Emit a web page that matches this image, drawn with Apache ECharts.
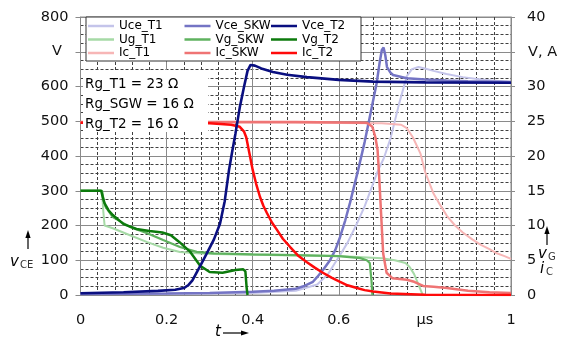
<!DOCTYPE html>
<html>
<head>
<meta charset="utf-8">
<script src="https://cdn.jsdelivr.net/npm/echarts@6/dist/echarts.min.js"></script>
<style>
html,body{margin:0;padding:0;background:#fff;}
#chart{width:574px;height:340px;}
</style>
</head>
<body>
<div id="chart"></div>
<script>
// ---- tick labels ('' = position taken by the unit label) ----
const xTickLabels = ['0', '0.2', '0.4', '0.6', 'μs', '1'];
const leftTicks = ['0', '100', '200', '300', '400', '500', '600', '', '800'];
const rightTicks = ['0', '5', '10', '15', '20', '25', '30', '', '40'];

// ---- series names ----
const namesT1 = ['Uce_T1', 'Ug_T1', 'Ic_T1'];
const namesSKW = ['Vce_SKW', 'Vg_SKW', 'Ic_SKW'];
const namesT2 = ['Vce_T2', 'Vg_T2', 'Ic_T2'];

// ---- data: [t (µs), value] ----
// collector-emitter voltages (V, left axis)
const uceT1 = [[0,3],[0.3,4],[0.4,6],[0.5,12],[0.55,30],[0.575,60],[0.59,90],[0.603,115],[0.62,150],[0.64,200],[0.66,255],[0.69,355],[0.705,395],[0.72,450],[0.74,550],[0.758,630],[0.77,650],[0.785,656],[0.8,652],[0.82,645],[0.85,636],[0.888,627],[0.93,620],[1,613]];
const vceSKW = [[0,3],[0.2,4],[0.3,6],[0.4,9],[0.45,12],[0.5,18],[0.52,26],[0.54,38],[0.55,52],[0.565,75],[0.58,101],[0.592,130],[0.603,167],[0.615,215],[0.626,265],[0.645,360],[0.66,440],[0.672,512],[0.688,610],[0.695,670],[0.7,705],[0.704,712],[0.708,690],[0.712,656],[0.72,640],[0.726,633],[0.758,624],[0.8,620],[0.85,617],[0.9,615],[1,613]];
const vceT2 = [[0,5],[0.1,8],[0.18,12],[0.22,15],[0.24,20],[0.25,28],[0.26,42],[0.27,65],[0.28,88],[0.294,121],[0.31,160],[0.324,205],[0.335,270],[0.345,360],[0.352,410],[0.36,465],[0.37,540],[0.38,600],[0.388,645],[0.395,662],[0.405,660],[0.42,652],[0.447,642],[0.48,634],[0.526,627],[0.6,619],[0.68,614],[0.8,612],[1,611]];
// gate voltages (V, right axis)
const ugT1 = [[0,15],[0.05,15],[0.053,12],[0.056,10],[0.06,9.8],[0.075,9.6],[0.115,8.6],[0.155,7.6],[0.192,6.8],[0.231,6.2],[0.27,6.0],[0.31,5.9],[0.4,5.8],[0.5,5.7],[0.6,5.6],[0.7,5.3],[0.73,5.0],[0.755,4.6],[0.765,4.0],[0.775,3.0],[0.785,1.5],[0.795,0]];
const vgSKW = [[0,15],[0.05,15],[0.054,13.5],[0.058,12.7],[0.075,11.2],[0.115,9.8],[0.155,8.9],[0.192,7.9],[0.231,6.9],[0.27,6.2],[0.31,6.0],[0.4,5.85],[0.5,5.75],[0.6,5.6],[0.65,5.3],[0.665,5.0],[0.672,4.6],[0.676,2],[0.678,0]];
const vgT2 = [[0,15],[0.048,15],[0.052,14],[0.056,13.2],[0.065,12.2],[0.075,11.5],[0.1,10.2],[0.13,9.5],[0.16,9.2],[0.19,9],[0.21,8.6],[0.23,7.6],[0.255,6.2],[0.278,4.2],[0.3,3.3],[0.33,3.2],[0.36,3.6],[0.378,3.7],[0.383,3.4],[0.386,1],[0.388,0]];
// collector currents (A, right axis)
const icT1 = [[0,24.9],[0.5,24.8],[0.7,24.7],[0.745,24.5],[0.758,24],[0.772,22.7],[0.79,20.3],[0.8,17.8],[0.82,14.6],[0.835,13],[0.851,11.4],[0.87,10],[0.888,9],[0.91,8],[0.93,7.2],[0.95,6.6],[0.967,6.0],[0.985,5.6],[1,5.2]];
const icSKW = [[0,24.9],[0.5,24.9],[0.66,24.8],[0.667,24.7],[0.678,24.2],[0.685,22.7],[0.69,20.9],[0.693,18],[0.697,13.2],[0.703,6.0],[0.711,3.2],[0.725,2.4],[0.758,2.2],[0.775,1.9],[0.796,1.3],[0.82,1.2],[0.851,1.0],[0.9,0.6],[0.95,0.4],[1,0.3]];
const icT2 = [[0,24.8],[0.3,24.7],[0.35,24.5],[0.37,24.2],[0.38,23.5],[0.385,22.7],[0.392,20.5],[0.4,18],[0.408,16],[0.417,14.1],[0.425,12.8],[0.433,11.8],[0.445,10.4],[0.456,9.4],[0.47,8.1],[0.487,6.9],[0.505,5.7],[0.526,4.7],[0.545,3.9],[0.563,3.2],[0.583,2.5],[0.603,1.9],[0.62,1.4],[0.642,1.0],[0.66,0.7],[0.68,0.5],[0.72,0.2],[0.8,0.05],[1,0]];

// ---- annotations ----
const rgTexts = ['Rg_T1 = 23 Ω', 'Rg_SGW = 16 Ω', 'Rg_T2 = 16 Ω'];

const FONT = 'DejaVu Sans';
const colors = {
  Uce_T1: '#c4c4ea', Vce_SKW: '#7474c4', Vce_T2: '#0a0f80',
  Ug_T1: '#a6daa6', Vg_SKW: '#5fb25f', Vg_T2: '#0c7a0c',
  Ic_T1: '#f7b6b6', Ic_SKW: '#ef7474', Ic_T2: '#ff0a0a'
};

function line(name, data, axis, width) {
  return {
    name: name, type: 'line', data: data, yAxisIndex: axis,
    showSymbol: false, symbol: 'none', smooth: false,
    lineStyle: { color: colors[name], width: width },
    itemStyle: { color: colors[name] },
    emphasis: { disabled: true }
  };
}

const series = [
  line('Uce_T1', uceT1, 0, 2),
  line('Ug_T1', ugT1, 1, 2),
  line('Ic_T1', icT1, 1, 2),
  line('Vce_SKW', vceSKW, 0, 2.5),
  line('Vg_SKW', vgSKW, 1, 2.2),
  line('Ic_SKW', icSKW, 1, 2.5),
  line('Ic_T2', icT2, 1, 2.5),
  line('Vg_T2', vgT2, 1, 2.5),
  line('Vce_T2', vceT2, 0, 2.6)
];

function legendCol(left, names) {
  return {
    data: names, orient: 'vertical', left: left, top: 19.25,
    padding: 0, itemGap: 0, itemWidth: 26, itemHeight: 2.5,
    icon: 'rect', selectedMode: false, z: 60,
    textStyle: { fontFamily: FONT, fontSize: 12, color: '#000', lineHeight: 13.5 }
  };
}

const gridColor = '#8a8a8a';
const minorStyle = { color: '#404040', width: 1, type: [3, 2] };

const option = {
  animation: false,
  backgroundColor: '#fff',
  grid: { left: 80.5, right: 63, top: 17, bottom: 45, show: true, borderColor: gridColor, borderWidth: 1, containLabel: false },
  legend: [legendCol(88, namesT1), legendCol(184.5, namesSKW), legendCol(271, namesT2)],
  xAxis: {
    type: 'value', min: 0, max: 1, interval: 0.2,
    axisLine: { show: true, lineStyle: { color: gridColor } },
    axisTick: { show: false },
    minorTick: { show: false, splitNumber: 5 },
    splitLine: { show: true, lineStyle: { color: gridColor, width: 1 } },
    minorSplitLine: { show: true, lineStyle: minorStyle },
    axisLabel: {
      margin: 18, fontFamily: FONT, fontSize: 14.5, color: '#111',
      formatter: function (v) { return xTickLabels[Math.round(v / 0.2)]; }
    }
  },
  yAxis: [
    {
      type: 'value', min: 0, max: 800, interval: 100, position: 'left',
      axisLine: { show: true, lineStyle: { color: gridColor } },
      axisTick: { show: true, length: 5, lineStyle: { color: gridColor } },
      minorTick: { show: false, splitNumber: 4 },
      splitLine: { show: true, lineStyle: { color: gridColor, width: 1 } },
      minorSplitLine: { show: true, lineStyle: minorStyle },
      axisLabel: {
        margin: 12, fontFamily: FONT, fontSize: 14.5, color: '#111',
        formatter: function (v) { return leftTicks[Math.round(v / 100)]; }
      }
    },
    {
      type: 'value', min: 0, max: 40, interval: 5, position: 'right',
      axisLine: { show: true, lineStyle: { color: gridColor } },
      axisTick: { show: true, length: 4, lineStyle: { color: gridColor } },
      splitLine: { show: false },
      axisLabel: {
        margin: 16, fontFamily: FONT, fontSize: 14.5, color: '#111',
        formatter: function (v) { return rightTicks[Math.round(v / 5)]; }
      }
    }
  ],
  graphic: [
    { type: 'rect', z: 50, shape: { x: 86, y: 17, width: 275, height: 44 }, style: { fill: '#fff', stroke: '#333', lineWidth: 1 } },
    { type: 'rect', z: 50, shape: { x: 83, y: 70, width: 125, height: 62 }, style: { fill: '#fff' } },
    { type: 'text', z: 60, x: 85, y: 84, style: { text: rgTexts[0], font: '13.5px "' + FONT + '"', fill: '#000', verticalAlign: 'middle' } },
    { type: 'text', z: 60, x: 85, y: 104, style: { text: rgTexts[1], font: '13.5px "' + FONT + '"', fill: '#000', verticalAlign: 'middle' } },
    { type: 'text', z: 60, x: 85, y: 124, style: { text: rgTexts[2], font: '13.5px "' + FONT + '"', fill: '#000', verticalAlign: 'middle' } },
    // axis unit labels
    { type: 'text', z: 60, x: 57, y: 51, style: { text: 'V', font: '14.5px "' + FONT + '"', fill: '#111', align: 'center', verticalAlign: 'middle' } },
    { type: 'text', z: 60, x: 528, y: 52, style: { text: 'V, A', font: '14.5px "' + FONT + '"', fill: '#111', verticalAlign: 'middle' } },
    // left quantity label
    { type: 'rect', z: 60, shape: { x: 27.4, y: 237, width: 1.2, height: 12 }, style: { fill: '#000' } },
    { type: 'polygon', z: 60, shape: { points: [[28, 230], [25.4, 238], [30.6, 238]] }, style: { fill: '#000' } },
    { type: 'text', z: 60, x: 10, y: 262, style: { text: 'v', font: 'italic 15px "' + FONT + '"', fill: '#000', verticalAlign: 'middle' } },
    { type: 'text', z: 60, x: 20, y: 265, style: { text: 'CE', font: '10px "' + FONT + '"', fill: '#333', verticalAlign: 'middle' } },
    // right quantity label
    { type: 'rect', z: 60, shape: { x: 546.4, y: 233, width: 1.2, height: 12 }, style: { fill: '#000' } },
    { type: 'polygon', z: 60, shape: { points: [[547, 226], [544.4, 234], [549.6, 234]] }, style: { fill: '#000' } },
    { type: 'text', z: 60, x: 538, y: 254, style: { text: 'v', font: 'italic 15px "' + FONT + '"', fill: '#000', verticalAlign: 'middle' } },
    { type: 'text', z: 60, x: 548, y: 257, style: { text: 'G', font: '10px "' + FONT + '"', fill: '#333', verticalAlign: 'middle' } },
    { type: 'text', z: 60, x: 540, y: 269, style: { text: 'i', font: 'italic 15px "' + FONT + '"', fill: '#000', verticalAlign: 'middle' } },
    { type: 'text', z: 60, x: 546, y: 272, style: { text: 'C', font: '10px "' + FONT + '"', fill: '#333', verticalAlign: 'middle' } },
    // time label
    { type: 'text', z: 60, x: 215, y: 332, style: { text: 't', font: 'italic 15px "' + FONT + '"', fill: '#000', verticalAlign: 'middle' } },
    { type: 'rect', z: 60, shape: { x: 223, y: 332.4, width: 19, height: 1.2 }, style: { fill: '#000' } },
    { type: 'polygon', z: 60, shape: { points: [[249, 333], [241, 330.4], [241, 335.6]] }, style: { fill: '#000' } }
  ],
  series: series
};

const chart = echarts.init(document.getElementById('chart'), null, { renderer: 'canvas' });
chart.setOption(option);
</script>
</body>
</html>
